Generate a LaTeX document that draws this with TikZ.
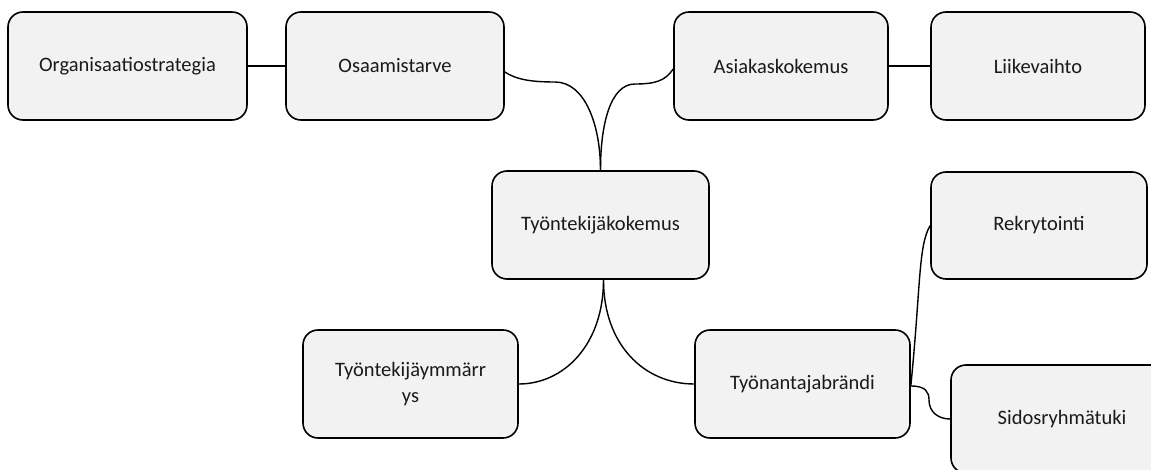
\documentclass[tikz,border=0pt]{standalone}
\usepackage{fontspec}
\setmainfont{Carlito}
\begin{document}
\begin{tikzpicture}[x=1pt,y=-1pt,
  box/.style={draw=black, line width=1.6pt, fill=boxgray, rounded corners=15pt,
    minimum height=108pt, inner sep=2pt, align=center, text=textgray,
    font=\fontsize{20.5}{26}\selectfont},
  conn/.style={draw=black, line width=1.4pt}]
\definecolor{boxgray}{HTML}{F2F2F2}
\definecolor{textgray}{HTML}{1A1A1A}
\useasboundingbox (0,0) rectangle (1151,470);
\clip (0,0) rectangle (1151,470);
\fill[white] (0,0) rectangle (1151,470);
% boxes
\node[box, minimum width=239pt] (org) at (127.5,66) {Organisaatiostrategia};
\node[box, minimum width=218pt] (osa) at (395,66) {Osaamistarve};
\node[box, minimum width=214pt] (asi) at (781,66) {Asiakaskokemus};
\node[box, minimum width=214pt] (lii) at (1038,66) {Liikevaihto};
\node[box, minimum width=217pt] (tyk) at (600.5,225) {Työntekijäkokemus};
\node[box, minimum width=215pt] (tym) at (410.5,384) {Työntekijäymmärr\\ys};
\node[box, minimum width=215pt] (tya) at (802.5,384) {Työnantajabrändi};
\node[box, minimum width=216pt, minimum height=107pt] (rek) at (1039,225.5) {Rekrytointi};
\node[box, minimum width=222pt] (sid) at (1062,419) {Sidosryhmätuki};
% helper coordinates
\coordinate (m1) at (555,82);
\coordinate (m2) at (635,84);
\coordinate (m3) at (929,400);
% connectors
\draw[conn] (org.east) -- (osa.west);
\draw[conn] (asi.east) -- (lii.west);
\draw[conn] ([yshift=-6pt]osa.east) .. controls +(12,8) and +(-22,0) .. (m1)
   .. controls +(30,0) and +(0,-45) .. (tyk.north);
\draw[conn] ([yshift=-3pt]asi.west) .. controls +(-8,12) and +(20,0) .. (m2)
   .. controls +(-25,0) and +(0,-45) .. (tyk.north);
\draw[conn] ([xshift=3pt]tyk.south) .. controls +(0,65) and +(45,0) .. (tym.east);
\draw[conn] ([xshift=3pt]tyk.south) .. controls +(0,65) and +(-50,0) .. (tya.west);
\draw[conn] ([yshift=-2pt]tya.east) .. controls +(10,-100) and +(-12,20) .. (rek.west);
\draw[conn] ([yshift=-2pt]tya.east) .. controls +(15,0) and +(0,-8) .. (m3)
   .. controls +(0,12) and +(-12,0) .. (sid.west);
\end{tikzpicture}
\end{document}
